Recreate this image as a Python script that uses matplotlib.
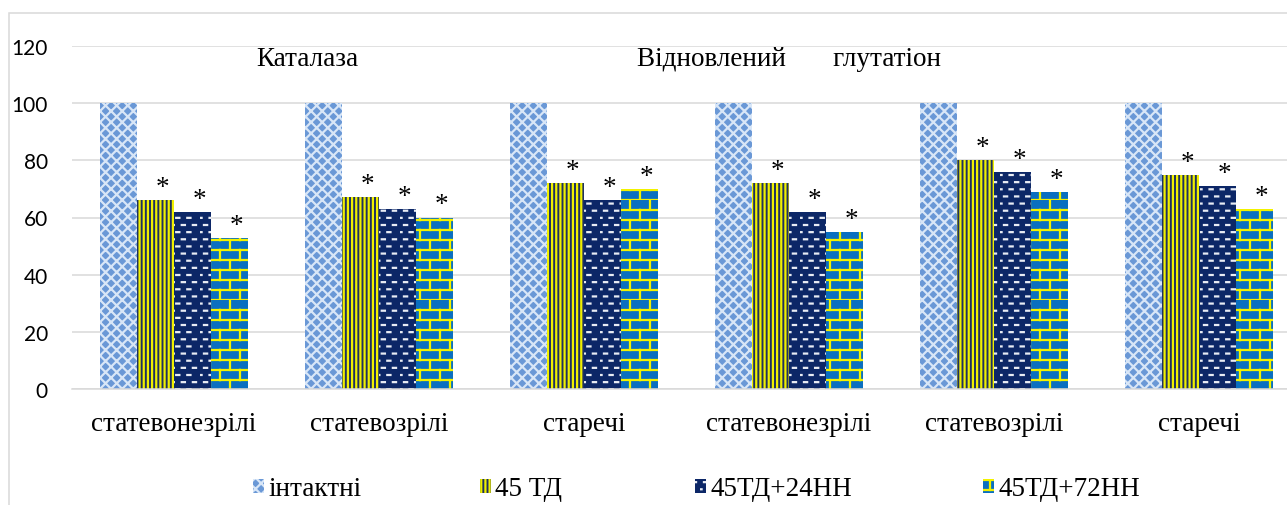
import warnings
warnings.filterwarnings("ignore")
import numpy as np
import matplotlib
matplotlib.use("Agg")
import matplotlib.pyplot as plt
import matplotlib.hatch as mhatch
from matplotlib.path import Path
from matplotlib.patches import Rectangle

# ---------------- data ----------------
categories = ["статевонезрілі", "статевозрілі", "старечі",
              "статевонезрілі", "статевозрілі", "старечі"]
series_names = ["інтактні", "45 ТД", "45ТД+24НН", "45ТД+72НН"]
intact = [100, 100, 100, 100, 100, 100]
td45 = [66, 67, 72, 72, 80, 75]
td45_24 = [62, 63, 66, 62, 76, 71]
td45_72 = [53, 60, 70, 55, 69, 63]
star_marks = ["", "*", "*", "*"]
group_titles = ["Каталаза", "Відновлений       глутатіон"]
yticks = [0, 20, 40, 60, 80, 100, 120]


# ---------------- custom hatches ----------------
class BrickHatch(mhatch.HatchPatternBase):
    def __init__(self, hatch, density):
        self.n = hatch.count('b') * 5
        self.num_vertices = self.n * self.n * 8

    def set_vertices_and_codes(self, vertices, codes):
        n = self.n
        s = 1.0 / n
        k = 0
        for i in range(n):
            for j in range(n):
                x0, y0 = i * s, j * s
                segs = [((x0, y0), (x0 + s, y0)),
                        ((x0, y0 + s / 2), (x0 + s, y0 + s / 2)),
                        ((x0, y0), (x0, y0 + s / 2)),
                        ((x0 + s / 2, y0 + s / 2), (x0 + s / 2, y0 + s))]
                for a, b in segs:
                    vertices[k] = a
                    codes[k] = Path.MOVETO
                    vertices[k + 1] = b
                    codes[k + 1] = Path.LINETO
                    k += 2


class DashHatch(mhatch.HatchPatternBase):
    def __init__(self, hatch, density):
        c = hatch.count('d')
        self.nx = 9 * c
        self.ny = 7 * c
        self.num_vertices = self.nx * self.ny * 4 if c else 0

    def set_vertices_and_codes(self, vertices, codes):
        w = 1.0 / self.nx
        h = 1.0 / self.ny
        L = 0.016
        k = 0
        for i in range(self.nx):
            for j in range(self.ny):
                cx1, cy1 = i * w + w / 2, j * h + h / 4
                cx2, cy2 = i * w, j * h + 3 * h / 4
                for cx, cy in ((cx1, cy1), (cx2, cy2)):
                    vertices[k] = (cx - L, cy)
                    codes[k] = Path.MOVETO
                    vertices[k + 1] = (cx + L, cy)
                    codes[k + 1] = Path.LINETO
                    k += 2


mhatch._hatch_types.append(BrickHatch)
mhatch._hatch_types.append(DashHatch)
try:
    mhatch._validate_hatch_pattern = lambda h: None
except Exception:
    pass

plt.rcParams['hatch.linewidth'] = 1.6

# ---------------- figure ----------------
W, H = 1287, 506
fig = plt.figure(figsize=(W / 100, H / 100), dpi=100)
left_px, right_px = 71.5, 1301.5
top_px, bot_px = 47, 390
ax = fig.add_axes([left_px / W, 1 - bot_px / H,
                   (right_px - left_px) / W, (bot_px - top_px) / H])

serif = "Liberation Serif"
FS = 19.5
styles = [
    dict(facecolor="#6a98d6", edgecolor="#d8e6f7", hatch="xxx"),
    dict(facecolor="#1f3060", edgecolor="#f0f000", hatch="||||"),
    dict(facecolor="#0c2767", edgecolor="#e8ecf4", hatch="d"),
    dict(facecolor="#0a6fc0", edgecolor="#f2f200", hatch="b"),
]
all_series = [intact, td45, td45_24, td45_72]
x = np.arange(len(categories))
bw = 37 / 205
handles = []
for j, (vals, st) in enumerate(zip(all_series, styles)):
    xs = x + (j - 1.5) * bw
    bars = ax.bar(xs, vals, width=bw, linewidth=0, zorder=2, **st)
    handles.append(bars)
    if star_marks[j]:
        for xi, v in zip(xs, vals):
            ax.annotate(star_marks[j], (xi, v), xytext=(5, 0),
                        textcoords="offset points", ha="center", va="bottom",
                        fontsize=FS, fontfamily=serif, zorder=3)

ax.set_xlim(-0.5, len(categories) - 0.5)
ax.set_ylim(0, 120)
ax.set_yticks(yticks)
ax.set_yticklabels([str(t) for t in yticks], fontfamily="Lato", fontsize=15)
ax.set_xticks(x)
ax.set_xticklabels(categories, fontfamily=serif, fontsize=FS)
ax.tick_params(axis="y", length=0, pad=17)
ax.tick_params(axis="x", length=0, pad=16)
ax.grid(axis="y", color="#d9d9d9", linewidth=1.1, zorder=0)
ax.set_axisbelow(True)
for s in ["top", "right", "left"]:
    ax.spines[s].set_visible(False)
ax.spines["bottom"].set_color("#d9d9d9")
ax.spines["bottom"].set_linewidth(1.1)

# group titles
fig.text(307 / W, 1 - 60 / H, group_titles[0], ha="center", va="center",
         fontfamily=serif, fontsize=FS)
fig.text(789 / W, 1 - 60 / H, group_titles[1], ha="center", va="center",
         fontfamily=serif, fontsize=FS)

# legends (one per entry, positioned like the reference)
leg_x = [253, 480, 695, 983]
for h, name, lx in zip(handles, series_names, leg_x):
    lg = fig.legend([h], [name], loc="center left",
                    bbox_to_anchor=(lx / W, 1 - 490 / H),
                    frameon=False, borderpad=0, borderaxespad=0,
                    handlelength=0.42, handleheight=0.42, handletextpad=0.15,
                    prop=dict(family=serif, size=FS))

# chart frame
fig.add_artist(Rectangle((8.5 / W, -0.2), 1.5, 1 - 13.5 / H + 0.2,
                         transform=fig.transFigure, fill=False,
                         edgecolor="#d9d9d9", linewidth=1.1))

fig.savefig("out.png", dpi=100)
